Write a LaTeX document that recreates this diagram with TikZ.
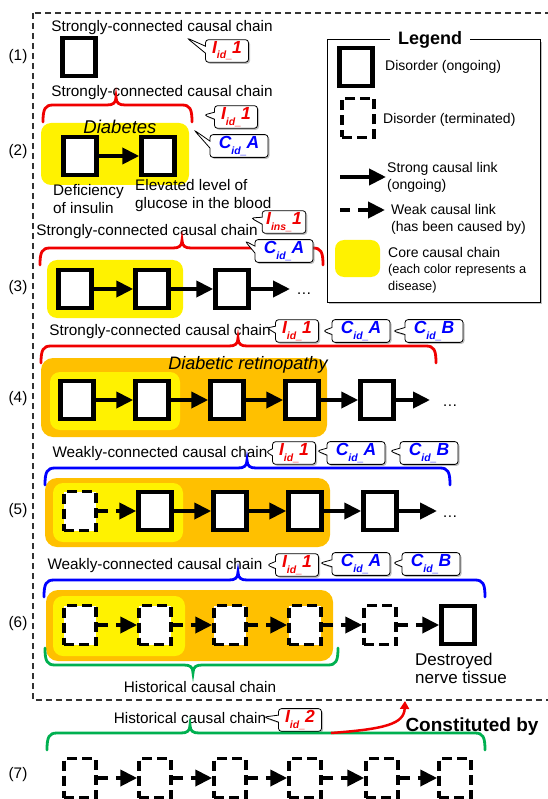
\documentclass[tikz,border=0pt]{standalone}
\usepackage{fontspec}
\setmainfont{Liberation Sans}
\usetikzlibrary{positioning,arrows.meta,shapes.callouts,shadows}
\definecolor{diseaseorange}{RGB}{255,192,0}
\definecolor{chainred}{RGB}{240,0,0}
\definecolor{chainblue}{RGB}{0,0,255}
\definecolor{chaingreen}{RGB}{0,176,80}
\tikzset{disorder/.style={draw,line width=4.5pt,fill=white,minimum width=33pt,minimum height=38pt,inner sep=0pt}}
\tikzset{ended/.style={draw,line width=3.5pt,dash pattern=on 10pt off 5pt,fill=white,minimum width=32pt,minimum height=39pt,inner sep=0pt}}
\tikzset{strong/.style={line width=4pt,-{Triangle[length=17pt,width=16pt]}}}
\tikzset{weak/.style={strong,dash pattern=on 10pt off 8pt}}
\tikzset{core/.style={fill=yellow,rounded corners=10pt}}
\tikzset{disease/.style={fill=diseaseorange,rounded corners=12pt}}
\tikzset{tag/.style={rectangle callout,callout pointer width=7pt,draw=black,line width=0.8pt,fill=white,rounded corners=3pt,
  minimum height=22pt,inner xsep=4pt,inner ysep=2pt,font=\fontsize{17.5}{19}\selectfont\bfseries\itshape,
  drop shadow={shadow xshift=1.5pt,shadow yshift=-1.5pt,fill=black!50}}}
\tikzset{tagI/.style={tag,text=chainred,minimum width=43pt}}
\tikzset{tagC/.style={tag,text=chainblue,minimum width=58pt}}
\tikzset{chaintext/.style={font=\fontsize{15.3}{18}\selectfont}}
\tikzset{keytext/.style={font=\fontsize{14}{17}\selectfont,anchor=west,align=left,inner sep=0pt}}
\newcommand\tagsub[1]{\raisebox{-0.3em}{\fontsize{10.5}{11}\selectfont #1}}
% colour, left x, right x, tip x, tip y, 1 = tip up / -1 = tip down
\newcommand\chainbrace[6]{%
  \draw[#1,line width=2.8pt,line cap=round,shift={(0,#5)},yscale=#6]
    (#2,25) .. controls (#2,12) and (#2+2,8) .. (#2+10,8) -- (#4-9,8)
    .. controls (#4-3,8) and (#4,6) .. (#4,0)
    .. controls (#4,6) and (#4+3,8) .. (#4+9,8) -- (#3-10,8)
    .. controls (#3-2,8) and (#3,12) .. (#3,25);}

\begin{document}
\begin{tikzpicture}[x=1pt,y=-1pt,chaintext,node distance=75pt,on grid]
  \useasboundingbox (0,0) rectangle (547,799);
  \draw[line width=1.3pt,dash pattern=on 6pt off 4pt,black!80] (33,13) rectangle (580,700);

  % legend
  \draw[fill=white,line width=1pt,drop shadow={shadow xshift=2pt,shadow yshift=-2pt,fill=black!50}] (327,40) rectangle (540,302);
  \node[fill=white,font=\fontsize{18}{20}\selectfont\bfseries,inner xsep=8pt,inner ysep=1pt] (legend) at (430,40) {Legend};
  \node[disorder] (keyon) at (356,67) {};
  \node[keytext] (keyontext) at (385,67) {Disorder (ongoing)};
  \node[ended] (keyoff) at (358,118) {};
  \node[keytext] (keyofftext) at (383,120) {Disorder (terminated)};
  \coordinate (keystrongA) at (340,177);
  \coordinate (keystrongB) at (386,177);
  \draw[strong] (keystrongA) -- (keystrongB);
  \node[keytext] (keystrongtext) at (387,177) {Strong causal link\\(ongoing)};
  \coordinate (keyweakA) at (340,210);
  \coordinate (keyweakB) at (385,210);
  \draw[weak] (keyweakA) -- (keyweakB);
  \node[keytext] (keyweaktext) at (391,219) {Weak causal link\\(has been caused by)};
  \fill[core,rounded corners=9pt] (335,240) rectangle (380,277);
  \node[keytext] (keycoretext) at (388,252) {Core causal chain};
  \node[keytext,font=\fontsize{12.8}{17}\selectfont] (keycolortext) at (388,279) {(each color represents a\\disease)};

  % row labels
  \foreach \n/\y in {1/57,2/152,3/288,4/399,5/511,6/624,7/775}
    \node (row\n) at (18,\y) {(\n)};

  % (1)
  \node (chain1) at (162,28) {Strongly-connected causal chain};
  \node[disorder] (a1) at (79,57) {};
  \node[tagI,callout absolute pointer={(187,38)}] (id1) at (227,51) {I\tagsub{id\_}1};

  % (2)
  \node (chain2) at (162,93) {Strongly-connected causal chain};
  \fill[core] (41,123) rectangle (189,185);
  \node[font=\fontsize{18.5}{20}\selectfont\itshape] (diabetes) at (120,127) {Diabetes};
  \node[disorder] (a2) at (80,156) {};
  \node[disorder,right=78pt of a2] (b2) {};
  \path[strong] (a2) edge (b2);
  \node[anchor=west,align=left,inner sep=0pt] (a2text) at (53,199) {Deficiency\\of insulin};
  \node[anchor=west,align=left,inner sep=0pt] (b2text) at (135,196) {Elevated level of\\glucose in the blood};
  \chainbrace{chainred}{43}{192}{116}{97}{1}
  \node[tagI,callout absolute pointer={(204,115)}] (id2) at (236,117) {I\tagsub{id\_}1};
  \node[tagC,callout absolute pointer={(194,130)}] (cid2) at (239,146) {C\tagsub{id\_}A};

  % (3)
  \node (chain3) at (147,232) {Strongly-connected causal chain};
  \fill[core] (47,260) rectangle (183,318);
  \node[disorder] (a3) at (75,289) {};
  \node[disorder,right=77pt of a3] (b3) {};
  \node[disorder,right=80pt of b3] (c3) {};
  \coordinate (d3) at (290,289);
  \path[strong] (a3) edge (b3) (b3) edge (c3) (c3) edge (d3);
  \node (dots3) at (304,294) {\dots};
  \chainbrace{chainred}{40}{323}{182}{240}{1}
  \node[tagI,callout absolute pointer={(251,218)}] (ins3) at (284,222) {I\tagsub{ins\_}1};
  \node[tagC,callout absolute pointer={(245,241)}] (cid3) at (284,251) {C\tagsub{id\_}A};

  % (4)
  \node (chain4) at (160,332) {Strongly-connected causal chain};
  \fill[disease] (41,358) rectangle (327,437);
  \fill[core] (50,372) rectangle (180,430);
  \node[font=\fontsize{18}{20}\selectfont\itshape] (retinopathy) at (248,365) {Diabetic retinopathy};
  \node[disorder] (a4) at (77,400) {};
  \node[disorder,right=of a4] (b4) {};
  \node[disorder,right=of b4] (c4) {};
  \node[disorder,right=of c4] (d4) {};
  \node[disorder,right=of d4] (e4) {};
  \coordinate (f4) at (430,400);
  \path[strong] (a4) edge (b4) (b4) edge (c4) (c4) edge (d4) (d4) edge (e4) (e4) edge (f4);
  \node (dots4) at (450,406) {\dots};
  \chainbrace{chainred}{41}{436}{238}{338}{1}
  \node[tagI,callout absolute pointer={(267,328)}] (id4) at (297,331) {I\tagsub{id\_}1};
  \node[tagC,callout absolute pointer={(323,331)}] (cida4) at (361,331) {C\tagsub{id\_}A};
  \node[tagC,callout absolute pointer={(393,331)}] (cidb4) at (434,331) {C\tagsub{id\_}B};

  % (5)
  \node (chain5) at (160,454) {Weakly-connected causal chain};
  \fill[disease] (45,478) rectangle (330,547);
  \fill[core] (53,483) rectangle (183,542);
  \node[ended] (a5) at (80,511) {};
  \node[disorder,right=of a5] (b5) {};
  \node[disorder,right=of b5] (c5) {};
  \node[disorder,right=of c5] (d5) {};
  \node[disorder,right=of d5] (e5) {};
  \coordinate (f5) at (437,511);
  \path[weak] (a5) edge (b5);
  \path[strong] (b5) edge (c5) (c5) edge (d5) (d5) edge (e5) (e5) edge (f5);
  \node (dots5) at (450,517) {\dots};
  \chainbrace{chainblue}{45}{450}{247}{460}{1}
  \node[tagI,callout absolute pointer={(266,452)}] (id5) at (294,453) {I\tagsub{id\_}1};
  \node[tagC,callout absolute pointer={(317,451)}] (cida5) at (356,453) {C\tagsub{id\_}A};
  \node[tagC,callout absolute pointer={(390,451)}] (cidb5) at (429,453) {C\tagsub{id\_}B};

  % (6)
  \node (chain6) at (155,566) {Weakly-connected causal chain};
  \fill[disease] (46,590) rectangle (333,661);
  \fill[core] (53,596) rectangle (185,656);
  \node[ended] (a6) at (80,625) {};
  \node[ended,right=of a6] (b6) {};
  \node[ended,right=of b6] (c6) {};
  \node[ended,right=of c6] (d6) {};
  \node[ended,right=of d6] (e6) {};
  \node[disorder,right=78pt of e6] (f6) {};
  \path[weak] (a6) edge (b6) (b6) edge (c6) (c6) edge (d6) (d6) edge (e6) (e6) edge (f6);
  \node[anchor=west,align=left,inner sep=0pt,font=\fontsize{17}{18}\selectfont] (f6text) at (415,668) {Destroyed\\nerve tissue};
  \chainbrace{chainblue}{44}{485}{238}{572}{1}
  \node[tagI,callout absolute pointer={(267,565)}] (id6) at (297,565) {I\tagsub{id\_}1};
  \node[tagC,callout absolute pointer={(320,563)}] (cida6) at (361,564) {C\tagsub{id\_}A};
  \node[tagC,callout absolute pointer={(393,563)}] (cidb6) at (431,564) {C\tagsub{id\_}B};
  \chainbrace{chaingreen}{45}{338}{193}{673}{-1}
  \node (history6) at (200,687) {Historical causal chain};

  % (7)
  \node (chain7) at (190,718) {Historical causal chain};
  \node[tagI,callout absolute pointer={(264,717)}] (id7) at (300,720) {I\tagsub{id\_}2};
  \chainbrace{chaingreen}{47}{485}{190}{725}{1}
  \node[ended] (a7) at (80,778) {};
  \node[ended,right=of a7] (b7) {};
  \node[ended,right=of b7] (c7) {};
  \node[ended,right=of c7] (d7) {};
  \node[ended,right=77pt of d7] (e7) {};
  \node[ended,right=73pt of e7] (f7) {};
  \path[weak] (a7) edge (b7) (b7) edge (c7) (c7) edge (d7) (d7) edge (e7) (e7) edge (f7);
  \node[font=\fontsize{19}{20}\selectfont\bfseries] (constituted) at (472,727) {Constituted by};
  \coordinate (constA) at (331,733);
  \coordinate (constB) at (405,701);
  \draw[chainred,line width=2.5pt,-{Triangle[length=8pt,width=9pt]}] (constA) .. controls (385,729) and (404,724) .. (constB);
\end{tikzpicture}
\end{document}
